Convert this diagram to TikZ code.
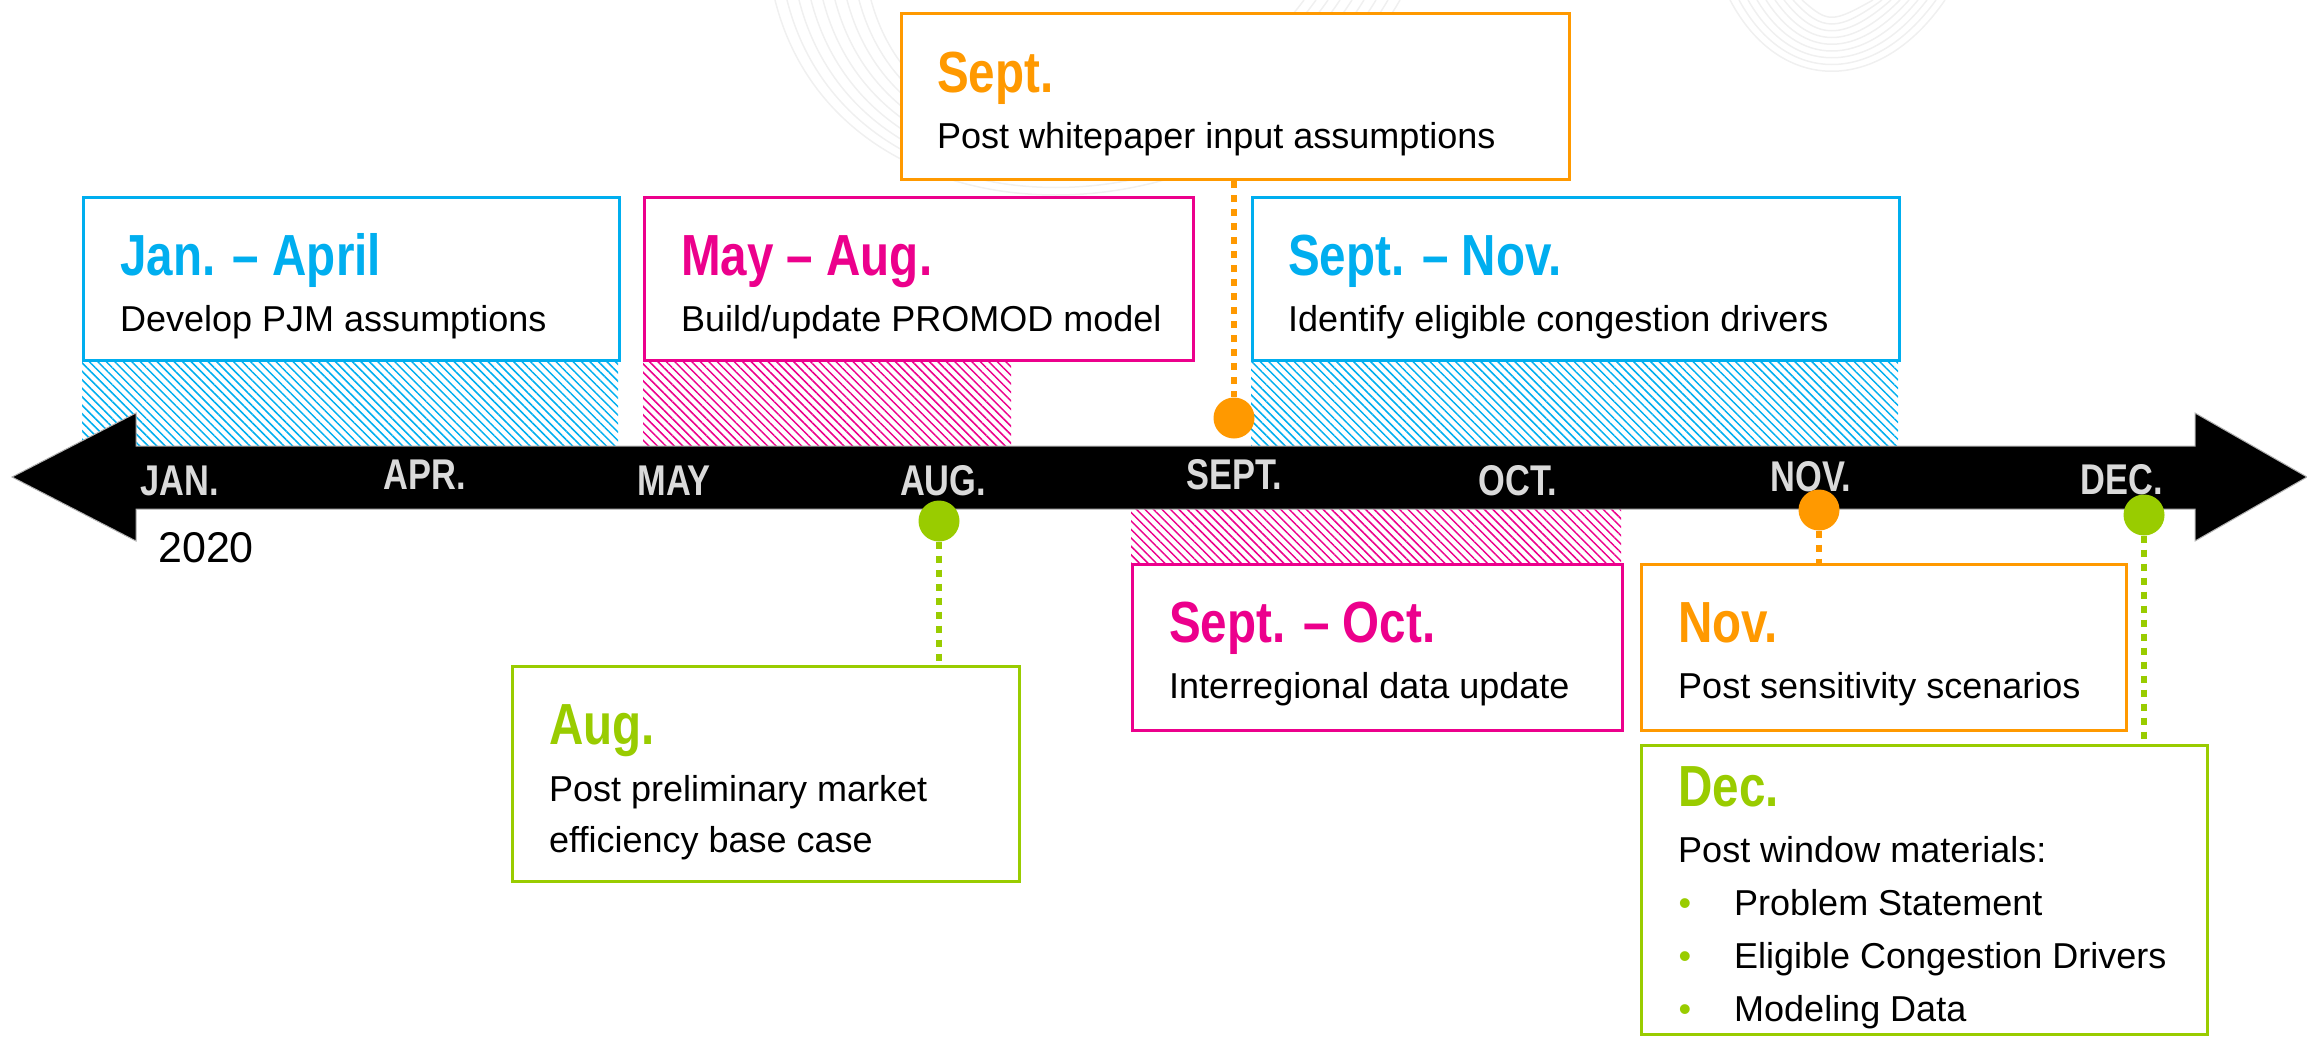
\documentclass[tikz,border=0pt]{standalone}
\usepackage{fontspec}
\setmainfont{Liberation Sans}
\newfontfamily\titlefont{Liberation Sans}[FakeStretch=0.82]
\newfontfamily\monthfont{Liberation Sans}[FakeStretch=0.8]
\usetikzlibrary{positioning,calc,patterns.meta}

\definecolor{pjmcyan}{HTML}{00AEEF}
\definecolor{pjmpink}{HTML}{EC008C}
\definecolor{pjmorange}{HTML}{FF9900}
\definecolor{pjmgreen}{HTML}{99CC00}
\definecolor{monthgray}{HTML}{DADADA}

\tikzset{
	box/.style={draw=#1, line width=3pt, fill=white, rectangle, inner sep=0pt, anchor=north west},
	hatch/.style={pattern={Lines[angle=-45,distance=6pt,line width=1.5pt]}, pattern color=#1},
	ttl/.style={font=\titlefont\bfseries\fontsize{58}{60}\selectfont, text=#1, inner sep=0pt, anchor=base west},
	txt/.style={font=\fontsize{36}{50}\selectfont, inner sep=0pt, anchor=base west},
	mon/.style={font=\monthfont\bfseries\fontsize{43}{45}\selectfont, text=monthgray, inner sep=0pt, anchor=base},
	milestone/.style={circle, fill=#1, minimum size=41pt, inner sep=0pt},
	dotline/.style={draw=#1, line width=6pt, dash pattern=on 7pt off 7pt},
}

\begin{document}
\begin{tikzpicture}[x=1pt,y=-1pt]
	\useasboundingbox (0,0) rectangle (2307,1036);
	
	% faint background swirls
	\foreach \i in {0,...,8}
		\draw[gray!12, line width=1.5pt] (775+12*\i,0) .. controls (840+10*\i,260-10*\i) and (1250-10*\i,260-10*\i) .. (1400-12*\i,0);
	\foreach \i in {0,...,8}
		\draw[gray!12, line width=1.5pt] (1730+9*\i,0) .. controls (1780+6*\i,95-9*\i) and (1880-6*\i,95-9*\i) .. (1945-9*\i,0);
	
	\fill[hatch=pjmcyan] (82,359) rectangle (618,446);
	\fill[hatch=pjmpink] (643,359) rectangle (1011,446);
	\fill[hatch=pjmcyan] (1251,359) rectangle (1898,446);
	\fill[hatch=pjmpink] (1131,509) rectangle (1621,563);
	
	% timeline
	\fill[black, draw=gray!60, line width=1pt] (12,477) -- (136,413) -- (136,446) -- (2195,446) -- (2195,413) -- (2307,477)
		-- (2195,541) -- (2195,509) -- (136,509) -- (136,541) -- cycle;
	
	\node[mon] (jan) at (180,495) {JAN.};
	\node[mon] (apr) at (425,489) {APR.};
	\node[mon] (may) at (674,495) {MAY};
	\node[mon] (aug) at (943,495) {AUG.};
	\node[mon] (sept) at (1234,489) {SEPT.};
	\node[mon] (oct) at (1518,495) {OCT.};
	\node[mon] (nov) at (1811,491) {NOV.};
	\node[mon] (dec) at (2122,494) {DEC.};
	\node[txt, font=\fontsize{43}{45}\selectfont] (year) at (158,562) {2020};
	
	\node[milestone=pjmorange] (sepdot) at (1234,418) {};
	\node[milestone=pjmgreen] (augdot) at (939,521) {};
	\node[milestone=pjmorange] (novdot) at (1819,510) {};
	\node[milestone=pjmgreen] (decdot) at (2144,515) {};
	
	% boxes
	\node[box=pjmcyan, minimum width=536pt, minimum height=163pt] (janbox) at (82,196) {};
	\node[box=pjmpink, minimum width=549pt, minimum height=163pt] (maybox) at (643,196) {};
	\node[box=pjmorange, minimum width=668pt, minimum height=166pt] (sepbox) at (900,12) {};
	\node[box=pjmcyan, minimum width=647pt, minimum height=163pt] (sepnovbox) at (1251,196) {};
	\node[box=pjmpink, minimum width=490pt, minimum height=166pt] (sepoctbox) at (1131,563) {};
	\node[box=pjmorange, minimum width=485pt, minimum height=166pt] (novbox) at (1640,563) {};
	\node[box=pjmgreen, minimum width=507pt, minimum height=215pt] (augbox) at (511,665) {};
	\node[box=pjmgreen, minimum width=566pt, minimum height=289pt] (decbox) at (1640,744) {};
	
	\draw[dotline=pjmorange] (sepbox.south -| sepdot) -- (sepdot);
	\draw[dotline=pjmgreen] (augdot) -- (augdot |- augbox.north);
	\draw[dotline=pjmorange] (novdot) -- (novdot |- novbox.north);
	\draw[dotline=pjmgreen] (decdot) -- (decdot |- decbox.north);
	
	% box texts
	\node[ttl=pjmcyan] (janttl) at ($(janbox.north west)+(38,79)$) {Jan. – April};
	\node[txt] (jantxt) at ($(janbox.north west)+(38,135)$) {Develop PJM assumptions};
	\node[ttl=pjmpink] (mayttl) at ($(maybox.north west)+(38,79)$) {May – Aug.};
	\node[txt] (maytxt) at ($(maybox.north west)+(38,135)$) {Build/update PROMOD model};
	\node[ttl=pjmorange] (septtl) at ($(sepbox.north west)+(37,80)$) {Sept.};
	\node[txt] (septxt) at ($(sepbox.north west)+(37,136)$) {Post whitepaper input assumptions};
	\node[ttl=pjmcyan] (sepnovttl) at ($(sepnovbox.north west)+(37,79)$) {Sept. – Nov.};
	\node[txt] (sepnovtxt) at ($(sepnovbox.north west)+(37,135)$) {Identify eligible congestion drivers};
	\node[ttl=pjmpink] (sepoctttl) at ($(sepoctbox.north west)+(38,79)$) {Sept. – Oct.};
	\node[txt] (sepocttxt) at ($(sepoctbox.north west)+(38,135)$) {Interregional data update};
	\node[ttl=pjmorange] (novttl) at ($(novbox.north west)+(38,79)$) {Nov.};
	\node[txt] (novtxt) at ($(novbox.north west)+(38,135)$) {Post sensitivity scenarios};
	\node[ttl=pjmgreen] (augttl) at ($(augbox.north west)+(38,79)$) {Aug.};
	\node[txt] (augtxta) at ($(augbox.north west)+(38,136)$) {Post preliminary market};
	\node[txt] (augtxtb) at ($(augbox.north west)+(38,187)$) {efficiency base case};
	\node[ttl=pjmgreen] (decttl) at ($(decbox.north west)+(38,62)$) {Dec.};
	\node[txt] (dectxt) at ($(decbox.north west)+(38,118)$) {Post window materials:};
	\node[txt, text=pjmgreen, anchor=base] (decbula) at ($(decbox.north west)+(45,171)$) {•};
	\node[txt] (decitema) at ($(decbox.north west)+(94,171)$) {Problem Statement};
	\node[txt, text=pjmgreen, anchor=base] (decbulb) at ($(decbox.north west)+(45,224)$) {•};
	\node[txt] (decitemb) at ($(decbox.north west)+(94,224)$) {Eligible Congestion Drivers};
	\node[txt, text=pjmgreen, anchor=base] (decbulc) at ($(decbox.north west)+(45,277)$) {•};
	\node[txt] (decitemc) at ($(decbox.north west)+(94,277)$) {Modeling Data};
\end{tikzpicture}
\end{document}
